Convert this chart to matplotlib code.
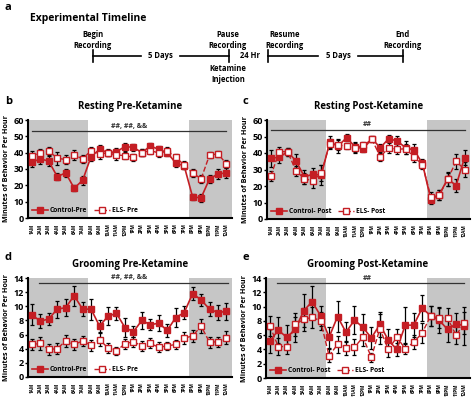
import matplotlib
matplotlib.use("Agg")
import matplotlib.pyplot as plt
import numpy as np

plt.rcParams['font.family'] = ['Open Sans', 'DejaVu Sans']
plt.rcParams['font.weight'] = 'bold'

RED = '#c41e24'
SHADE = '#c6c6c6'

hours = ['1AM', '2AM', '3AM', '4AM', '5AM', '6AM', '7AM', '8AM', '9AM', '10AM', '11AM', '12PM',
         '1PM', '2PM', '3PM', '4PM', '5PM', '6PM', '7PM', '8PM', '9PM', '10PM', '11PM', '12AM']

# b: resting pre-ketamine
rest_pre_ctrl = [34.1, 36.2, 34.8, 25.4, 27.6, 18.3, 23.0, 37.6, 42.0, 40.0, 40.6, 43.7,
                 43.3, 40.0, 44.1, 42.0, 40.0, 33.7, 31.9, 12.8, 12.4, 24.0, 27.0, 27.6]
rest_pre_ctrl_err = [3, 3, 3, 2, 2.5, 2, 3, 3, 2.5, 2, 2, 2.5, 2, 2, 2, 2, 2, 2.5, 2, 2, 2.5, 2.5, 3, 3]
rest_pre_els = [38.2, 39.8, 41.0, 36.6, 35.8, 38.6, 36.2, 41.3, 39.2, 39.8, 38.6, 38.2,
                37.2, 40.0, 41.3, 39.8, 40.9, 37.2, 32.5, 27.6, 24.0, 38.6, 39.2, 33.1]
rest_pre_els_err = [3, 2.5, 2.5, 4, 3, 3, 2.5, 2, 3, 2, 3, 2, 2, 2, 2, 2.5, 2.5, 2, 2.5, 2.5, 2.5, 2, 2, 2.5]

# c: resting post-ketamine
rest_post_ctrl = [36.7, 37.5, 40.8, 35.1, 25.5, 27.2, 26.6, 46.7, 44.2, 49.3, 43.8, 42.6,
                  48.7, 43.2, 48.7, 47.3, 43.2, 41.8, 33.7, 11.8, 14.8, 24.3, 20.3, 37.1]
rest_post_ctrl_err = [5, 3.5, 2.5, 4, 4, 4, 6, 3.5, 4.5, 2, 3, 2, 1.5, 2.5, 2, 3, 4, 3.5, 2.5, 3, 3, 4, 4, 4.5]
rest_post_els = [26.0, 40.8, 40.8, 29.0, 24.5, 23.0, 28.0, 45.6, 44.8, 44.2, 43.2, 44.6,
                 48.3, 37.7, 43.2, 42.2, 42.6, 37.7, 33.0, 13.4, 14.5, 24.0, 35.0, 30.0]
rest_post_els_err = [3, 3, 2.5, 3, 3.5, 4, 5, 3, 3, 2, 3, 2, 1.5, 2.5, 3, 3, 3, 3, 2.5, 3, 3, 4, 4.5, 4.5]

# d: grooming pre-ketamine
groom_pre_ctrl = [8.8, 7.9, 8.2, 9.6, 9.8, 11.5, 9.6, 9.6, 7.2, 8.6, 9.0, 7.0,
                  6.4, 8.0, 7.4, 7.6, 6.6, 8.4, 9.1, 11.8, 10.9, 9.6, 9.1, 9.3]
groom_pre_ctrl_err = [1.5, 1, 0.9, 1.2, 1.2, 1.4, 1, 1.5, 0.8, 1.3, 0.9, 1.3, 0.8, 1.2, 0.8, 1.1, 0.9, 1.3, 0.9, 0.9, 0.9, 1, 1.1, 1.2]
groom_pre_els = [4.6, 4.75, 3.9, 4.0, 5.1, 4.6, 5.1, 4.5, 5.3, 4.1, 3.7, 4.7,
                 5.0, 4.4, 4.75, 4.2, 4.4, 4.6, 5.5, 5.8, 7.2, 4.9, 5.0, 5.55]
groom_pre_els_err = [0.8, 0.9, 0.8, 0.8, 0.9, 0.8, 0.7, 0.8, 0.9, 0.7, 0.6, 0.7,
                     0.7, 0.7, 0.7, 0.7, 0.6, 0.7, 0.9, 0.8, 1.0, 0.8, 0.7, 0.9]

# e: grooming post-ketamine
groom_post_ctrl = [5.15, 6.7, 5.7, 6.8, 9.4, 10.7, 8.7, 5.7, 8.6, 6.4, 8.1, 7.1,
                   5.6, 7.5, 5.3, 4.0, 7.4, 7.4, 9.8, 8.7, 8.1, 6.8, 7.6, 7.3]
groom_post_ctrl_err = [1.7, 1.8, 1.7, 1.8, 2.3, 2.2, 1.4, 1.5, 2.2, 1.4, 2.0, 1.8,
                       1.6, 1.7, 1.5, 0.9, 2.6, 1.7, 1.8, 1.4, 1.8, 1.8, 1.5, 2.7]
groom_post_els = [7.3, 4.4, 4.4, 7.5, 8.2, 8.5, 8.0, 3.1, 4.7, 4.2, 4.3, 5.7,
                  2.9, 6.9, 4.0, 5.7, 4.1, 5.0, 6.3, 8.7, 8.4, 8.4, 6.0, 7.7]
groom_post_els_err = [1.4, 1.2, 1.1, 1.6, 1.6, 1.5, 1.3, 0.9, 1.2, 1.0, 1.1, 1.2,
                      0.6, 2.1, 1.1, 1.2, 0.8, 1.0, 1.4, 1.4, 1.4, 1.4, 1.3, 1.5]

panels = [
    dict(letter='b', title='Resting Pre-Ketamine', ctrl=rest_pre_ctrl, ctrl_err=rest_pre_ctrl_err,
         els=rest_pre_els, els_err=rest_pre_els_err, labels=('Control-Pre', 'ELS- Pre'),
         ymax=60, ystep=10, sig='##, ##, &&', sig_y=53, sig_x=(1, 24),
         rect=[28/474, 1-218/398, 204/474, 98/398], letter_xy=(5, 102)),
    dict(letter='c', title='Resting Post-Ketamine', ctrl=rest_post_ctrl, ctrl_err=rest_post_ctrl_err,
         els=rest_post_els, els_err=rest_post_els_err, labels=('Control- Post', 'ELS- Post'),
         ymax=60, ystep=10, sig='##', sig_y=54, sig_x=(1, 24),
         rect=[267/474, 1-219/398, 203/474, 99/398], letter_xy=(243, 102)),
    dict(letter='d', title='Grooming Pre-Ketamine', ctrl=groom_pre_ctrl, ctrl_err=groom_pre_ctrl_err,
         els=groom_pre_els, els_err=groom_pre_els_err, labels=('Control-Pre', 'ELS- Pre'),
         ymax=14, ystep=2, sig='##, ##, &&', sig_y=13.3, sig_x=(1.8, 24.2),
         rect=[28/474, 1-377/398, 204/474, 99/398], letter_xy=(5, 258)),
    dict(letter='e', title='Grooming Post-Ketamine', ctrl=groom_post_ctrl, ctrl_err=groom_post_ctrl_err,
         els=groom_post_els, els_err=groom_post_els_err, labels=('Control- Post', 'ELS- Post'),
         ymax=14, ystep=2, sig='##', sig_y=13.3, sig_x=(1.8, 24),
         rect=[266/474, 1-378/398, 204/474, 100/398], letter_xy=(243, 258)),
]

fig = plt.figure(figsize=(4.74, 3.98), dpi=100)

# timeline (panel a), drawn in pixel coords on an overlay axes
tl = fig.add_axes([0, 0, 1, 1], zorder=-1)
tl.set_xlim(0, 474)
tl.set_ylim(398, 0)
tl.axis('off')
tl.text(5, 8, 'a', fontsize=8, fontweight='bold', va='center')
tl.text(30, 18, 'Experimental Timeline', fontsize=7.5, fontweight='bold', va='center')
line_y = 56
for seg in [(93, 141), (180, 229), (268, 318), (358, 403)]:
    tl.plot(seg, [line_y, line_y], color='black', lw=1.2)
for tx in [93, 229, 268, 403]:
    tl.plot([tx, tx], [line_y - 6, line_y + 6], color='black', lw=1.2)
tl_texts = [(160, 56, '5 Days'), (250, 56, '24 Hr'), (338, 56, '5 Days'),
            (93, 40, 'Begin\nRecording'), (228, 40, 'Pause\nRecording'),
            (228, 74, 'Ketamine\nInjection'), (285, 40, 'Resume\nRecording'),
            (403, 40, 'End\nRecording')]
for x, y, s in tl_texts:
    tl.text(x, y, s, fontsize=5.5, fontweight='bold', ha='center', va='center', linespacing=1.3)
for p in panels:
    tl.text(p['letter_xy'][0], p['letter_xy'][1], p['letter'], fontsize=8,
            fontweight='bold', va='center')

x = np.arange(1, 25)
for p in panels:
    ax = fig.add_axes(p['rect'])
    ax.axvspan(0.5, 7.6, color=SHADE, lw=0, zorder=0)
    ax.axvspan(19.6, 24.7, color=SHADE, lw=0, zorder=0)
    ax.errorbar(x, p['ctrl'], yerr=p['ctrl_err'], fmt='none', ecolor='black',
                elinewidth=0.9, capsize=1.5, capthick=0.9, zorder=2)
    ax.errorbar(x, p['els'], yerr=p['els_err'], fmt='none', ecolor='black',
                elinewidth=0.9, capsize=1.5, capthick=0.9, zorder=2)
    ax.plot(x, p['ctrl'], '-s', color=RED, lw=1.2, ms=4.4, mfc=RED, mec=RED,
            label=p['labels'][0], zorder=3)
    ax.plot(x, p['els'], '--s', color=RED, lw=1.0, ms=4.4, mfc='white', mec=RED,
            mew=1.0, label=p['labels'][1], zorder=3)
    ax.plot(p['sig_x'], [p['sig_y'], p['sig_y']], color='#333333', lw=0.9, zorder=1)
    ax.text(12.5, p['sig_y'] + p['ymax'] * 0.015, p['sig'], fontsize=5, ha='center',
            va='bottom', color='#333333')
    ax.set_xlim(0.55, 24.65)
    ax.set_ylim(0, p['ymax'])
    ax.set_yticks(np.arange(0, p['ymax'] + 1, p['ystep']))
    ax.set_xticks(x)
    ax.set_xticklabels(hours, rotation=90, fontsize=3.3)
    ax.tick_params(axis='y', labelsize=6.5, length=2, width=1, pad=1)
    ax.tick_params(axis='x', length=0, pad=4)
    for s in ['top', 'right']:
        ax.spines[s].set_visible(False)
    for s in ['left', 'bottom']:
        ax.spines[s].set_linewidth(1.5)
    ax.set_ylabel('Minutes of Behavior Per Hour', fontsize=5.2, fontweight='bold')
    ax.yaxis.set_label_coords(-0.09, 0.5)
    ax.set_title(p['title'], fontsize=7, fontweight='bold', pad=8)
    ax.legend(loc='lower left', ncol=2, frameon=False, fontsize=4.8, handlelength=2.4,
              columnspacing=1.0, handletextpad=0.3, borderaxespad=0.2)

fig.savefig('out.png', dpi=100)
